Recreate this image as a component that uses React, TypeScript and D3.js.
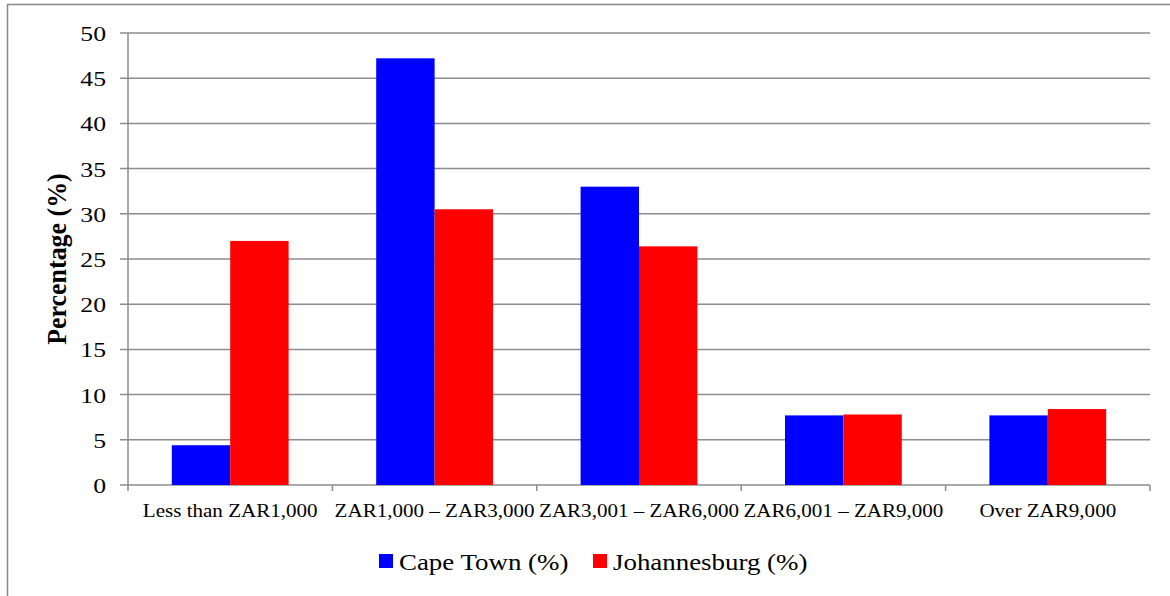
import React, { useEffect, useRef } from 'react';
import * as d3 from 'd3';

const categories = [
  'Less than ZAR1,000',
  'ZAR1,000 – ZAR3,000',
  'ZAR3,001 – ZAR6,000',
  'ZAR6,001 – ZAR9,000',
  'Over ZAR9,000',
];
const capeTown = [4.4, 47.2, 33.0, 7.7, 7.7];
const johannesburg = [27.0, 30.5, 26.4, 7.8, 8.4];
const seriesNames = ['Cape Town (%)', 'Johannesburg (%)'];
const seriesColors = ['#0000ff', '#ff0000'];
const yTicks = [0, 5, 10, 15, 20, 25, 30, 35, 40, 45, 50];

const App = () => {
  const svgRef = useRef<SVGSVGElement>(null);

  useEffect(() => {
    const svg = d3.select(svgRef.current);
    svg.selectAll('*').remove();

    const width = 1170, height = 596;
    const margin = { top: 33, right: 20, bottom: 112, left: 128 };
    const font = "'Liberation Serif', 'Times New Roman', serif";
    const stretch = 1.17; // text in the source looks horizontally stretched

    // outer frame
    svg.append('rect')
      .attr('x', 7.5).attr('y', 4.5)
      .attr('width', width + 20).attr('height', height + 20)
      .attr('fill', 'none').attr('stroke', '#888').attr('stroke-width', 1.5);

    const x = d3.scaleBand()
      .domain(categories)
      .range([margin.left, width - margin.right])
      .paddingInner(0).paddingOuter(0);

    const xSub = d3.scaleBand()
      .domain(seriesNames)
      .range([0, x.bandwidth()])
      .paddingOuter(0.75).paddingInner(0);

    const y = d3.scaleLinear()
      .domain([0, 50])
      .range([height - margin.bottom + 1, margin.top]);

    const label = (px: number, py: number, txt: string, size: number, anchor: string) =>
      svg.append('text')
        .attr('transform', `translate(${px},${py}) scale(${stretch},1)`)
        .attr('text-anchor', anchor)
        .attr('font-family', font).attr('font-size', size)
        .attr('fill', '#000')
        .text(txt);

    // gridlines + y ticks
    yTicks.forEach(t => {
      svg.append('line')
        .attr('x1', margin.left - 8).attr('x2', width - margin.right)
        .attr('y1', y(t)).attr('y2', y(t))
        .attr('stroke', '#8c8c8c').attr('stroke-width', 1.5);
      label(106, y(t) + 8, String(t), 22, 'end');
    });

    // y axis line
    svg.append('line')
      .attr('x1', margin.left).attr('x2', margin.left)
      .attr('y1', margin.top).attr('y2', y(0))
      .attr('stroke', '#8c8c8c').attr('stroke-width', 1.5);

    // x ticks
    const edges = categories.map(c => x(c) as number).concat([width - margin.right]);
    edges.forEach(xp => {
      svg.append('line')
        .attr('x1', xp).attr('x2', xp)
        .attr('y1', y(0)).attr('y2', y(0) + 6)
        .attr('stroke', '#8c8c8c').attr('stroke-width', 1.5);
    });

    // bars
    const values = [capeTown, johannesburg];
    seriesNames.forEach((s, si) => {
      svg.append('g')
        .selectAll('rect')
        .data(values[si])
        .join('rect')
        .attr('x', (d, i) => (x(categories[i]) as number) + (xSub(s) as number))
        .attr('y', d => y(d))
        .attr('width', xSub.bandwidth())
        .attr('height', d => y(0) - y(d))
        .attr('fill', seriesColors[si]);
    });

    // x labels
    categories.forEach(c => {
      label((x(c) as number) + x.bandwidth() / 2, 517, c, 18, 'middle');
    });

    // y title
    svg.append('text')
      .attr('transform', `translate(66, ${(margin.top + y(0)) / 2}) rotate(-90) scale(1.08,1.1)`)
      .attr('text-anchor', 'middle')
      .attr('font-family', font).attr('font-size', 24).attr('font-weight', 'bold')
      .text('Percentage (%)');

    // legend
    const legendX = [379, 593];
    seriesNames.forEach((s, si) => {
      svg.append('rect')
        .attr('x', legendX[si]).attr('y', 554)
        .attr('width', 14).attr('height', 14)
        .attr('fill', seriesColors[si]);
      label(legendX[si] + 20, 570, s, 23, 'start');
    });
  }, []);

  return <svg ref={svgRef} width={1170} height={596} style={{ position: 'absolute', left: 0, top: 0, background: '#fff' }} />;
};

export default App;
